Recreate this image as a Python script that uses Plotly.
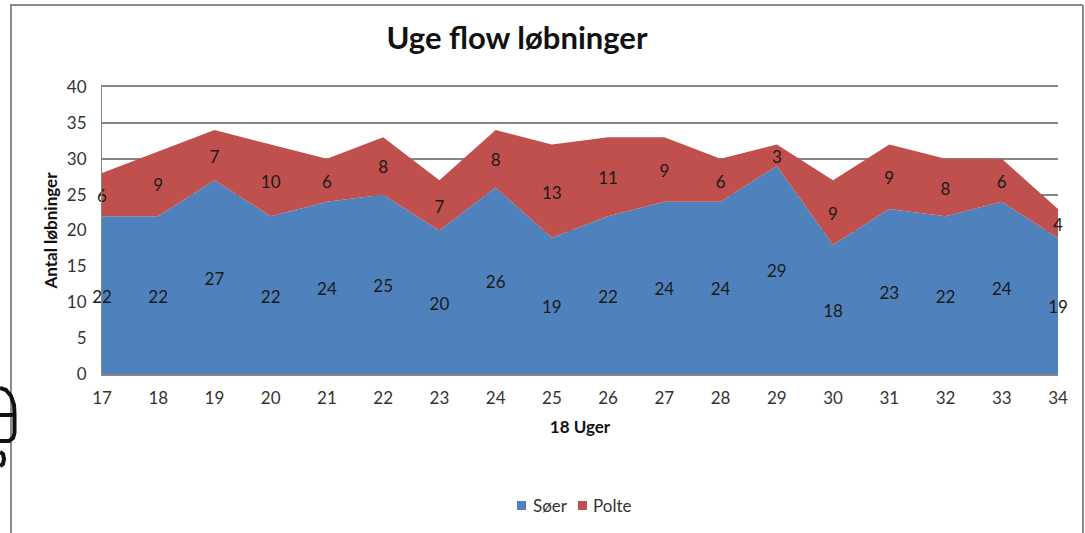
import plotly.graph_objects as go

uger = list(range(17, 35))
soer = [22, 22, 27, 22, 24, 25, 20, 26, 19, 22, 24, 24, 29, 18, 23, 22, 24, 19]
polte = [6, 9, 7, 10, 6, 8, 7, 8, 13, 11, 9, 6, 3, 9, 9, 8, 6, 4]
y_ticks = [0, 5, 10, 15, 20, 25, 30, 35, 40]
series_names = ["Søer", "Polte"]

W, H = 1085, 533
L, R, T, B = 102, 1058, 87, 374
FONT = "Lato, Carlito, Calibri, sans-serif"
BLUE, RED, GRID = "#4F81BD", "#C0504D", "#868686"
LABEL_DROP = 0.45  # plotly centres text slightly above the anchor

def px(x):
    return (x - L) / (R - L)

def py(y):
    return (B - y) / (B - T)

fig = go.Figure()
fig.add_trace(go.Scatter(x=uger, y=soer, name=series_names[0], mode="lines", stackgroup="s", showlegend=False,
                         line=dict(width=0, color=BLUE), fillcolor=BLUE))
fig.add_trace(go.Scatter(x=uger, y=polte, name=series_names[1], mode="lines", stackgroup="s", showlegend=False,
                         line=dict(width=0, color=RED), fillcolor=RED))
label_font = dict(size=17, color="#1a1a1a", family=FONT)
fig.add_trace(go.Scatter(x=uger, y=[v / 2 - LABEL_DROP for v in soer], text=soer, mode="text", showlegend=False,
                         textfont=label_font, cliponaxis=False,
                         textposition="middle center", hoverinfo="skip"))
fig.add_trace(go.Scatter(x=uger, y=[a + b / 2 - LABEL_DROP for a, b in zip(soer, polte)], text=polte, mode="text",
                         showlegend=False, textfont=label_font,
                         cliponaxis=False, textposition="middle center", hoverinfo="skip"))

line = dict(color="#8c8c8c", width=2)
shapes = [
    dict(type="line", xref="paper", yref="paper", x0=px(11), x1=px(11), y0=py(5), y1=py(533), line=line),
    dict(type="line", xref="paper", yref="paper", x0=px(10), x1=px(1083), y0=py(5), y1=py(5), line=line),
    dict(type="line", xref="paper", yref="paper", x0=px(1083), x1=px(1083), y0=py(5), y1=py(533), line=line),
]
ink = dict(color="#111111", width=4)
arc = [(0, 388), (6, 390), (11, 396), (14, 405), (14.5, 414), (14.5, 433), (13, 438), (9, 441), (0, 441)]
path = "M " + " L ".join(f"{px(a):.5f},{py(b):.5f}" for a, b in arc)
shapes.append(dict(type="path", xref="paper", yref="paper", path=path, line=ink))
shapes.append(dict(type="line", xref="paper", yref="paper", x0=px(0), x1=px(15), y0=py(415), y1=py(415), line=ink))
bead = [(0, 452), (3, 454), (4, 459), (3, 464), (0, 466)]
path2 = "M " + " L ".join(f"{px(a):.5f},{py(b):.5f}" for a, b in bead)
shapes.append(dict(type="path", xref="paper", yref="paper", path=path2, line=ink))

# Legend: compact square swatches with tight text, as in the reference
annotations = []
for name, color, sw_x, tx_x in zip(series_names, [BLUE, RED], [517, 578], [532, 592]):
    shapes.append(dict(type="rect", xref="paper", yref="paper", x0=px(sw_x), x1=px(sw_x + 9),
                       y0=py(501), y1=py(510), fillcolor=color, line=dict(width=0)))
    annotations.append(dict(text=name, xref="paper", yref="paper", x=px(tx_x), y=py(505), xanchor="left",
                            yanchor="middle", showarrow=False, xshift=-1,
                            font=dict(size=17, color="#333333", family=FONT)))

fig.update_layout(
    width=W, height=H, margin=dict(l=L, r=W - R, t=T, b=H - B, autoexpand=False),
    paper_bgcolor="white", plot_bgcolor="white", font=dict(family=FONT, color="#333333", size=17),
    title=dict(text="<b>Uge flow løbninger</b>", x=517 / W, xanchor="center", y=1 - 38 / H, yanchor="middle",
               font=dict(size=31, color="#111111", family=FONT)),
    xaxis=dict(range=[17, 34], tickmode="array", tickvals=uger, showgrid=False, zeroline=False,
               showline=True, mirror=True, linecolor=GRID, linewidth=2, ticks="", ticklabelstandoff=8,
               title=dict(text="<b>18 Uger</b>", font=dict(size=17, color="#111111"), standoff=14)),
    yaxis=dict(range=[0, 40], tickmode="array", tickvals=y_ticks, gridcolor=GRID, gridwidth=2, zeroline=False,
               showline=True, linecolor=GRID, linewidth=1, ticks="", ticklabelstandoff=11,
               title=dict(text="<b>Antal løbninger</b>", font=dict(size=17, color="#111111"), standoff=4)),
    shapes=shapes, annotations=annotations, showlegend=False,
)
fig.write_html("out.html", post_script="document.body.style.margin='0';", config=dict(displayModeBar=False))
